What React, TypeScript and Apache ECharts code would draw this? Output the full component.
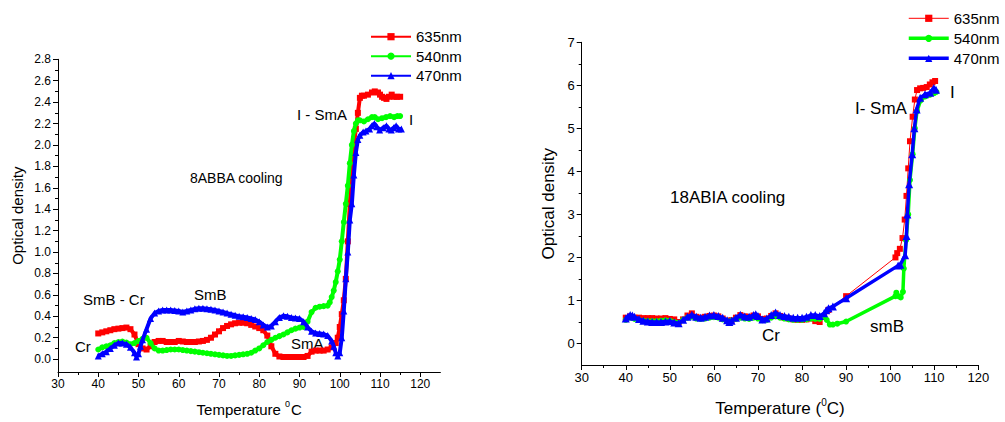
import React, { useEffect, useRef } from "react";
import * as echarts from "echarts";

const FONT = '"Liberation Sans", Arial, Helvetica, sans-serif';

// ---------- Left panel (8ABBA cooling) ----------
const left635: [number, number][] = [
  [40, 0.24], [41, 0.25], [42, 0.26], [43, 0.27], [44, 0.28], [45, 0.285], [46, 0.29], [47, 0.295],
  [48, 0.28], [49, 0.23], [50, 0.14], [51, 0.1], [52, 0.09], [53, 0.12], [54, 0.16], [55, 0.17],
  [56, 0.17], [57, 0.16], [58, 0.16], [59, 0.16], [60, 0.17], [61, 0.165], [62, 0.16], [63, 0.16],
  [64, 0.16], [65, 0.165], [66, 0.17], [67, 0.18], [68, 0.2], [69, 0.23], [70, 0.26], [71, 0.29],
  [72, 0.31], [73, 0.325], [74, 0.335], [75, 0.34], [76, 0.34], [77, 0.335], [78, 0.32], [79, 0.305],
  [80, 0.29], [81, 0.27], [82, 0.22], [83, 0.12], [84, 0.05], [85, 0.025], [86, 0.02], [87, 0.02],
  [88, 0.02], [89, 0.02], [90, 0.02], [91, 0.02], [92, 0.03], [93, 0.07], [94, 0.08], [95, 0.08],
  [96, 0.08], [97, 0.09], [98, 0.11], [99, 0.15], [99.5, 0.2], [100, 0.3], [100.5, 0.42], [101, 0.55],
  [101.5, 0.75], [102, 1.1], [102.5, 1.45], [103, 1.75], [103.5, 2.0], [104, 2.15], [104.5, 2.3],
  [105, 2.44], [105.5, 2.46], [106, 2.46], [107, 2.47], [108, 2.49], [108.7, 2.5], [109.5, 2.49],
  [110, 2.47], [110.5, 2.45], [111, 2.44], [111.6, 2.43], [112.2, 2.45], [112.9, 2.47], [113.5, 2.45],
  [114.2, 2.45], [115, 2.45],
];
const left540: [number, number][] = [
  [40, 0.09], [41, 0.11], [42, 0.12], [43, 0.13], [44, 0.15], [45, 0.16], [46, 0.165], [47, 0.155],
  [48, 0.14], [49, 0.15], [50, 0.17], [51, 0.19], [52, 0.2], [53, 0.15], [54, 0.1], [55, 0.08],
  [56, 0.08], [57, 0.085], [58, 0.09], [59, 0.09], [60, 0.09], [61, 0.085], [62, 0.08], [63, 0.075],
  [64, 0.07], [65, 0.065], [66, 0.06], [67, 0.055], [68, 0.05], [69, 0.045], [70, 0.04], [71, 0.035],
  [72, 0.03], [73, 0.03], [74, 0.035], [75, 0.04], [76, 0.045], [77, 0.05], [78, 0.06], [79, 0.08],
  [80, 0.1], [81, 0.13], [82, 0.16], [83, 0.18], [84, 0.2], [85, 0.215], [86, 0.23], [87, 0.25],
  [88, 0.27], [89, 0.285], [90, 0.295], [91, 0.3], [92, 0.35], [93, 0.44], [94, 0.48], [95, 0.49],
  [96, 0.495], [97, 0.5], [97.5, 0.53], [98, 0.58], [98.5, 0.64], [99, 0.72], [99.5, 0.82], [100, 0.93],
  [100.5, 1.1], [101, 1.28], [101.5, 1.45], [102, 1.62], [102.5, 1.83], [103, 2.0], [103.5, 2.13],
  [104, 2.2], [104.5, 2.23], [105, 2.23], [106, 2.22], [107, 2.24], [108, 2.26], [108.7, 2.26],
  [109.5, 2.24], [110.5, 2.25], [111.5, 2.26], [112.5, 2.27], [113.5, 2.26], [114.3, 2.27], [115, 2.27],
];
const left470: [number, number][] = [
  [40, 0.03], [41, 0.05], [42, 0.07], [43, 0.1], [44, 0.13], [45, 0.15], [46, 0.15], [47, 0.14],
  [48, 0.11], [49, 0.06], [49.5, 0.02], [50, 0.05], [50.5, 0.12], [51, 0.18], [52, 0.28], [53, 0.38],
  [54, 0.43], [55, 0.45], [56, 0.46], [57, 0.46], [58, 0.46], [59, 0.455], [60, 0.45], [61, 0.44],
  [62, 0.45], [63, 0.46], [64, 0.47], [65, 0.475], [66, 0.475], [67, 0.47], [68, 0.465], [69, 0.46],
  [70, 0.45], [71, 0.44], [72, 0.43], [73, 0.42], [74, 0.41], [75, 0.4], [76, 0.395], [77, 0.39],
  [78, 0.38], [79, 0.37], [80, 0.35], [81, 0.32], [82, 0.3], [83, 0.31], [84, 0.35], [85, 0.39],
  [86, 0.405], [87, 0.4], [88, 0.39], [89, 0.385], [90, 0.38], [91, 0.35], [92, 0.3], [93, 0.26],
  [94, 0.245], [95, 0.24], [96, 0.235], [97, 0.22], [98, 0.17], [98.5, 0.12], [99, 0.06], [99.5, 0.03],
  [100, 0.06], [100.5, 0.2], [101, 0.45], [101.5, 0.75], [102, 1.0], [102.5, 1.3], [103, 1.45],
  [103.5, 1.72], [104, 1.93], [104.5, 2.05], [105, 2.09], [105.8, 2.12], [106.5, 2.13], [107.4, 2.15],
  [108, 2.18], [108.6, 2.2], [109.2, 2.17], [109.9, 2.14], [110.8, 2.16], [111.6, 2.18], [112.2, 2.15],
  [112.8, 2.14], [113.4, 2.16], [114, 2.18], [114.6, 2.15], [115.3, 2.15],
];

// ---------- Right panel (18ABIA cooling) ----------
const right635: [number, number][] = [
  [40, 0.6], [41, 0.63], [42, 0.6], [43, 0.6], [44, 0.59], [45, 0.59], [46, 0.59], [47, 0.58],
  [48, 0.58], [49, 0.59], [50, 0.57], [51, 0.56], [52, 0.5], [53, 0.56], [54, 0.65], [55, 0.7],
  [56, 0.62], [57, 0.6], [58, 0.62], [59, 0.64], [60, 0.65], [61, 0.63], [62, 0.58], [63, 0.53],
  [64, 0.54], [65, 0.6], [66, 0.66], [67, 0.63], [68, 0.62], [69, 0.65], [70, 0.63], [71, 0.57],
  [72, 0.58], [73, 0.64], [74, 0.7], [75, 0.64], [76, 0.6], [77, 0.58], [78, 0.56], [79, 0.55],
  [80, 0.55], [81, 0.56], [82, 0.58], [83, 0.52], [84, 0.5], [85, 0.62], [86, 0.78], [90, 1.1],
  [101.2, 2.0], [101.6, 2.1], [102.2, 2.2], [102.8, 2.45], [103.3, 2.88], [103.7, 3.43], [104.1, 4.07],
  [104.5, 4.7], [105.1, 5.27], [105.6, 5.67], [106.1, 5.89], [106.8, 5.93], [107.5, 5.94], [108.3, 5.96],
  [109, 6.02], [109.6, 6.07], [110.2, 6.1],
];
const right540: [number, number][] = [
  [40, 0.55], [41, 0.6], [42, 0.57], [43, 0.55], [44, 0.53], [45, 0.52], [46, 0.52], [47, 0.52],
  [48, 0.53], [49, 0.54], [50, 0.53], [51, 0.5], [52, 0.48], [53, 0.55], [54, 0.6], [55, 0.62],
  [56, 0.58], [57, 0.57], [58, 0.58], [59, 0.6], [60, 0.61], [61, 0.6], [62, 0.56], [63, 0.52],
  [64, 0.53], [65, 0.57], [66, 0.6], [67, 0.58], [68, 0.57], [69, 0.6], [70, 0.58], [71, 0.54],
  [72, 0.55], [73, 0.6], [74, 0.63], [75, 0.6], [76, 0.58], [77, 0.56], [78, 0.55], [79, 0.55],
  [80, 0.55], [81, 0.56], [82, 0.58], [83, 0.57], [84, 0.57], [85, 0.62], [85.6, 0.55], [86.3, 0.44],
  [87, 0.44], [88, 0.46], [90, 0.51], [101.2, 1.1], [101.4, 1.18], [101.9, 1.1], [102.4, 1.07],
  [102.9, 1.2], [103.1, 1.74], [103.6, 2.4], [104.1, 3.0], [104.5, 3.8], [105.1, 4.4], [105.6, 5.0],
  [106.1, 5.4], [106.9, 5.65], [108, 5.74], [109, 5.78], [110, 5.82], [110.5, 5.85],
];
const right470: [number, number][] = [
  [40, 0.58], [40.5, 0.63], [41, 0.66], [41.5, 0.65], [42, 0.62], [43, 0.57], [44, 0.53], [45, 0.51],
  [46, 0.5], [47, 0.5], [48, 0.5], [49, 0.51], [50, 0.52], [51, 0.49], [52, 0.47], [53, 0.55],
  [54, 0.62], [55, 0.67], [56, 0.62], [57, 0.6], [58, 0.62], [59, 0.65], [60, 0.66], [61, 0.64],
  [62, 0.6], [63, 0.54], [63.5, 0.5], [64, 0.53], [65, 0.6], [66, 0.67], [67, 0.63], [68, 0.62],
  [69, 0.66], [69.5, 0.68], [70, 0.64], [71, 0.56], [72, 0.58], [73, 0.66], [74, 0.72], [75, 0.66],
  [76, 0.64], [77, 0.62], [78, 0.6], [79, 0.6], [80, 0.6], [81, 0.62], [82, 0.66], [83, 0.66],
  [84, 0.64], [85, 0.7], [85.5, 0.77], [86, 0.82], [87, 0.86], [90, 1.05], [101.8, 1.81], [102.3, 1.83],
  [103.4, 2.05], [103.7, 2.5], [103.9, 3.0], [104.3, 3.7], [105, 4.4], [105.5, 5.0], [106, 5.44],
  [106.8, 5.71], [107.9, 5.79], [109.1, 5.83], [109.9, 5.94], [110.4, 5.9],
];

// ---------- Tick values ----------
const leftYTicks = [0, 0.2, 0.4, 0.6, 0.8, 1.0, 1.2, 1.4, 1.6, 1.8, 2.0, 2.2, 2.4, 2.6, 2.8];
const leftYMinor = [0.1, 0.3, 0.5, 0.7, 0.9, 1.1, 1.3, 1.5, 1.7, 1.9, 2.1, 2.3, 2.5, 2.7];
const leftXTicks = [30, 40, 50, 60, 70, 80, 90, 100, 110, 120];
const leftXMinor = [35, 45, 55, 65, 75, 85, 95, 105, 115];
const rightYTicks = [0, 1, 2, 3, 4, 5, 6, 7];
const rightYMinor = [0.5, 1.5, 2.5, 3.5, 4.5, 5.5, 6.5];
const rightXTicks = [30, 40, 50, 60, 70, 80, 90, 100, 110, 120];
const rightXMinor = [35, 45, 55, 65, 75, 85, 95, 105, 115];

const seriesNames = ["635nm", "540nm", "470nm"];
const colors = ["#ff0000", "#00ff00", "#0000ff"];

export default function App() {
  const ref = useRef<HTMLDivElement>(null);

  useEffect(() => {
    if (!ref.current) return;
    const chart = echarts.init(ref.current, undefined, { renderer: "svg" });

    const axisLine = { show: true, onZero: false, lineStyle: { color: "#000", width: 1 } };

    const mainX = (gridIndex: number, min: number, max: number, ticks: number[], fs: number, name: string, gap: number, nfs: number, rich: any) => ({
      type: "value",
      gridIndex,
      min,
      max,
      position: "bottom",
      axisLine,
      axisTick: { show: true, inside: false, length: 5, customValues: ticks, lineStyle: { color: "#000" } },
      axisLabel: { show: true, customValues: ticks, color: "#000", fontSize: fs, fontFamily: FONT, margin: 6 },
      splitLine: { show: false },
      name,
      nameLocation: "middle",
      nameGap: gap,
      nameTextStyle: { color: "#000", fontSize: nfs, fontFamily: FONT, rich },
    });
    const minorX = (gridIndex: number, min: number, max: number, ticks: number[]) => ({
      type: "value",
      gridIndex,
      min,
      max,
      position: "bottom",
      axisLine: { show: false, onZero: false },
      axisTick: { show: true, inside: false, length: 3, customValues: ticks, lineStyle: { color: "#000" } },
      axisLabel: { show: false },
      splitLine: { show: false },
    });
    const mainY = (gridIndex: number, min: number, max: number, ticks: number[], fs: number, name: string, gap: number, nfs: number, fmt?: (v: number) => string) => ({
      type: "value",
      gridIndex,
      min,
      max,
      position: "left",
      axisLine,
      axisTick: { show: true, inside: false, length: 5, customValues: ticks, lineStyle: { color: "#000" } },
      axisLabel: { show: true, customValues: ticks, color: "#000", fontSize: fs, fontFamily: FONT, margin: 7, formatter: fmt },
      splitLine: { show: false },
      name,
      nameLocation: "middle",
      nameGap: gap,
      nameTextStyle: { color: "#000", fontSize: nfs, fontFamily: FONT },
    });
    const minorY = (gridIndex: number, min: number, max: number, ticks: number[]) => ({
      type: "value",
      gridIndex,
      min,
      max,
      position: "left",
      axisLine: { show: false, onZero: false },
      axisTick: { show: true, inside: false, length: 3, customValues: ticks, lineStyle: { color: "#000" } },
      axisLabel: { show: false },
      splitLine: { show: false },
    });

    const symbols = ["rect", "circle", "triangle"];
    const leftData = [left635, left540, left470];
    const rightData = [right635, right540, right470];

    const series: any[] = [];
    leftData.forEach((d, i) => {
      series.push({
        type: "line",
        name: seriesNames[i],
        xAxisIndex: 0,
        yAxisIndex: 0,
        data: d,
        symbol: symbols[i],
        symbolSize: i === 2 ? 7 : 6,
        showSymbol: true,
        lineStyle: { color: colors[i], width: 4 },
        itemStyle: { color: colors[i] },
        z: 2 + i,
      });
    });
    rightData.forEach((d, i) => {
      series.push({
        type: "line",
        name: seriesNames[i],
        xAxisIndex: 1,
        yAxisIndex: 1,
        data: d,
        symbol: symbols[i],
        symbolSize: i === 2 ? 8 : 6,
        showSymbol: true,
        lineStyle: { color: colors[i], width: i === 0 ? 1 : 3.5 },
        itemStyle: { color: colors[i] },
        z: 2 + i,
      });
    });

    const richL = {
      a: { fontSize: 15, fontFamily: FONT, color: "#000", lineHeight: 18, verticalAlign: "bottom" },
      s: { fontSize: 9, fontFamily: FONT, color: "#000", lineHeight: 18, verticalAlign: "top", padding: [0, 1, 0, 0] },
    };
    const richR = {
      a: { fontSize: 17, fontFamily: FONT, color: "#000", lineHeight: 20, verticalAlign: "bottom" },
      s: { fontSize: 10, fontFamily: FONT, color: "#000", lineHeight: 20, verticalAlign: "top" },
    };

    const txt = (text: string, x: number, y: number, fs: number) => ({
      type: "text",
      x,
      y,
      style: { text, fontSize: fs, fontFamily: FONT, fill: "#000", verticalAlign: "middle", align: "left" },
      silent: true,
    });

    const option: any = {
      animation: false,
      backgroundColor: "#ffffff",
      grid: [
        { left: 58, top: 59.3, width: 382.4, height: 313.4, containLabel: false },
        { left: 581.7, top: 42.3, width: 396.6, height: 324.4, containLabel: false },
      ],
      xAxis: [
        mainX(0, 30, 125, leftXTicks, 12, "{a|Temperature }{s|0}{a|C}", 27, 15, richL),
        mainX(1, 30, 120, rightXTicks, 13, "{a|Temperature (}{s|0}{a|C)}", 32, 17, richR),
        minorX(0, 30, 125, leftXMinor),
        minorX(1, 30, 120, rightXMinor),
      ],
      yAxis: [
        mainY(0, -0.12, 2.8, leftYTicks, 12, "Optical density", 33, 15, (v: number) => v.toFixed(1)),
        mainY(1, -0.5, 7, rightYTicks, 13, "Optical density", 25, 17),
        minorY(0, -0.12, 2.8, leftYMinor),
        minorY(1, -0.5, 7, rightYMinor),
      ],
      legend: [
        {
          data: seriesNames.map((n) => ({ name: n })),
          orient: "vertical",
          left: 370,
          top: 29.2,
          padding: 0,
          itemWidth: 40,
          itemHeight: 9,
          itemGap: 4.5,
          textStyle: { fontSize: 15, fontFamily: FONT, color: "#000", lineHeight: 15 },
          selectedMode: false,
        },
        {
          data: seriesNames.map((n, i) => ({ name: n, lineStyle: { width: i === 0 ? 1 : 3.5 } })),
          orient: "vertical",
          left: 907,
          top: 10.8,
          padding: 0,
          itemWidth: 40,
          itemHeight: 9,
          itemGap: 5,
          textStyle: { fontSize: 15, fontFamily: FONT, color: "#000", lineHeight: 15 },
          selectedMode: false,
        },
      ],
      graphic: [
        txt("8ABBA cooling", 190, 178, 14),
        txt("I - SmA", 297, 114, 15),
        txt("I", 409, 119, 15),
        txt("SmB - Cr", 83, 299, 15),
        txt("SmB", 194, 294, 15),
        txt("Cr", 75, 346, 15),
        txt("SmA", 291, 343, 15),
        txt("18ABIA cooling", 670, 197, 17),
        txt("I- SmA", 855, 108, 17),
        txt("I", 950, 92, 17),
        txt("Cr", 762, 335, 17),
        txt("smB", 870, 326, 17),
      ],
      series,
    };

    chart.setOption(option);
    return () => chart.dispose();
  }, []);

  return (
    <div
      ref={ref}
      style={{ position: "absolute", left: 0, top: 0, width: 1005, height: 422, background: "#fff" }}
    />
  );
}
